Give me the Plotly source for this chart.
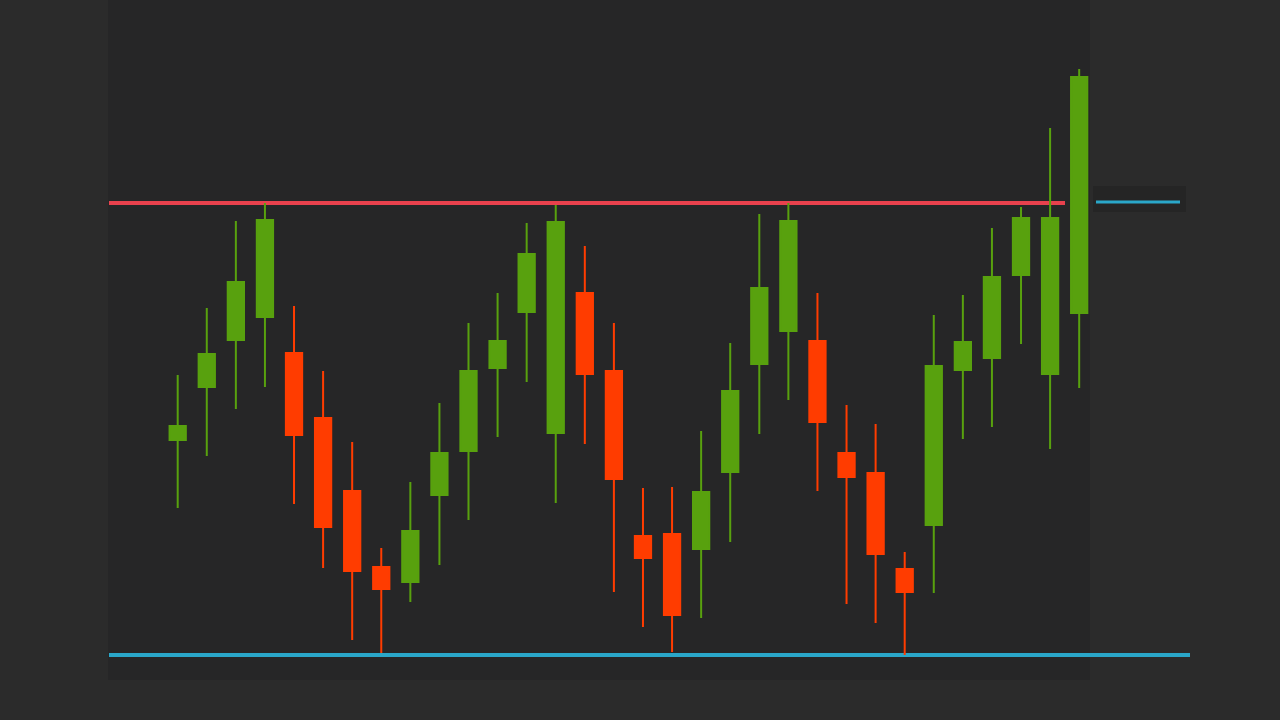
import plotly.graph_objects as go

# Candle index
idx = list(range(1, 33))
opens  = [280, 333, 380, 403, 367, 302, 229, 153, 138, 225, 269, 352, 408, 287, 427, 349,
          184, 186, 171, 248, 356, 389, 379, 267, 247, 151, 195, 350, 362, 445, 346, 407]
highs  = [345, 412, 499, 517, 414, 349, 278, 172, 238, 317, 397, 427, 497, 515, 474, 397,
          232, 233, 289, 377, 506, 517, 427, 315, 296, 168, 405, 425, 492, 513, 592, 651]
lows   = [212, 264, 311, 333, 216, 152, 80, 67, 118, 155, 200, 283, 338, 217, 276, 128,
          93, 68, 102, 178, 286, 320, 229, 116, 97, 65, 127, 281, 293, 376, 271, 332]
closes = [294, 366, 438, 500, 285, 193, 149, 131, 189, 267, 349, 379, 466, 498, 346, 241,
          162, 105, 228, 329, 432, 499, 298, 243, 166, 128, 354, 378, 443, 502, 502, 643]

resistance = 517
support = 65

GREEN = "#58a10e"
RED = "#ff3c00"

fig = go.Figure()
fig.add_trace(go.Candlestick(
    x=idx, open=opens, high=highs, low=lows, close=closes,
    increasing=dict(line=dict(color=GREEN, width=2), fillcolor=GREEN),
    decreasing=dict(line=dict(color=RED, width=2), fillcolor=RED),
    whiskerwidth=0, showlegend=False, hoverinfo="skip",
))

shapes = [
    # chart panel
    dict(type="rect", xref="paper", yref="paper", x0=108/1280, x1=1090/1280, y0=40/720, y1=1,
         fillcolor="#262627", line=dict(width=0), layer="below"),
    dict(type="rect", xref="paper", yref="paper", x0=1093/1280, x1=1186/1280, y0=(720-212)/720, y1=(720-186)/720,
         fillcolor="#252525", line=dict(width=0), layer="below"),
    # resistance line
    dict(type="line", xref="paper", yref="y", x0=109/1280, x1=1065/1280, y0=resistance, y1=resistance,
         line=dict(color="#e8414d", width=4), layer="below"),
    # small blue level to the right
    dict(type="line", xref="paper", yref="y", x0=1096/1280, x1=1180/1280, y0=resistance + 1, y1=resistance + 1,
         line=dict(color="#2aa7c9", width=3), layer="below"),
    # support line
    dict(type="line", xref="paper", yref="y", x0=109/1280, x1=1190/1280, y0=support, y1=support,
         line=dict(color="#2aa7c9", width=4), layer="below"),
]

px_per_unit = 29.08
x0 = 1 - 177.7 / px_per_unit
x1 = x0 + 1280 / px_per_unit

fig.update_layout(
    width=1280, height=720,
    margin=dict(l=0, r=0, t=0, b=0),
    paper_bgcolor="#2b2b2b", plot_bgcolor="rgba(0,0,0,0)",
    boxgap=0.2,
    shapes=shapes,
    xaxis=dict(range=[x0, x1], visible=False, rangeslider=dict(visible=False), fixedrange=True),
    yaxis=dict(range=[0, 720], visible=False, fixedrange=True),
)

fig.write_html(
    "out.html",
    config=dict(displayModeBar=False),
    post_script="document.body.style.margin='0';document.body.style.background='#2b2b2b';",
)
